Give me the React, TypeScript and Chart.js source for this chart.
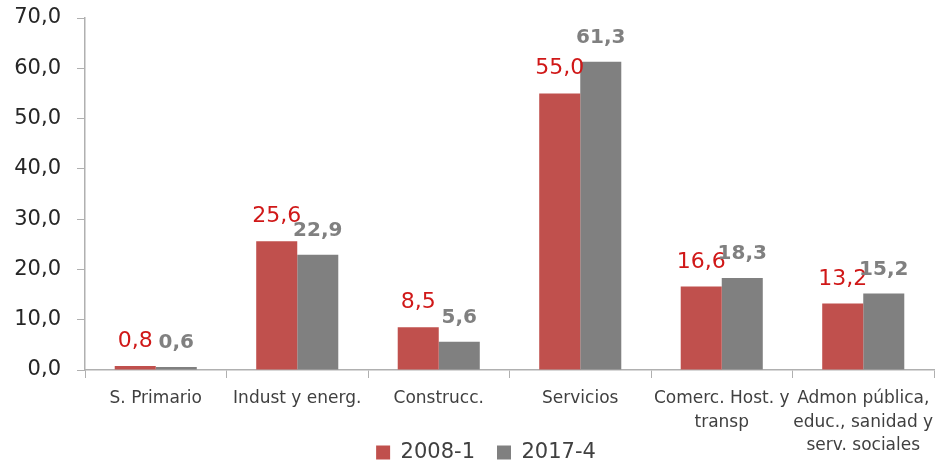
import React, { useEffect, useRef } from "react";
import { Chart, registerables } from "chart.js";

Chart.register(...registerables);

const categories: (string | string[])[] = [
  "S. Primario",
  "Indust y energ.",
  "Construcc.",
  "Servicios",
  ["Comerc. Host. y", "transp"],
  ["Admon pública,", "educ., sanidad y", "serv. sociales"],
];
const series2008 = [0.8, 25.6, 8.5, 55.0, 16.6, 13.2];
const series2017 = [0.6, 22.9, 5.6, 61.3, 18.3, 15.2];
const seriesNames = ["2008-1", "2017-4"];
const barColors = ["#C0504D", "#808080"];
const labelColors = ["#D01818", "#808080"];
const labelFonts = ["normal 22px 'DejaVu Sans'", "bold 20px 'DejaVu Sans'"];

const fmt = (v: number) => v.toFixed(1).replace(".", ",");

const valueLabels = {
  id: "valueLabels",
  afterDatasetsDraw(chart: any) {
    const ctx = chart.ctx;
    chart.data.datasets.forEach((ds: any, i: number) => {
      const meta = chart.getDatasetMeta(i);
      ctx.save();
      ctx.font = labelFonts[i];
      ctx.fillStyle = labelColors[i];
      ctx.textAlign = "center";
      ctx.textBaseline = "alphabetic";
      meta.data.forEach((el: any, j: number) => {
        ctx.fillText(fmt(ds.data[j]), el.x, el.y - 19);
      });
      ctx.restore();
    });
  },
};

// shift legend toward the reference position and let x labels use full height
const layoutTweak = {
  id: "layoutTweak",
  afterLayout(chart: any) {
    const lg = chart.legend;
    if (lg) {
      lg.left += 19;
      lg.right += 19;
    }
    const xs = chart.scales.x;
    if (xs) xs.bottom = chart.height;
  },
};

export default function App() {
  const ref = useRef<HTMLCanvasElement | null>(null);
  useEffect(() => {
    if (!ref.current) return;
    const chart = new Chart(ref.current, {
      type: "bar",
      data: {
        labels: categories,
        datasets: [
          {
            label: seriesNames[0],
            data: series2008,
            backgroundColor: barColors[0],
            borderWidth: 0,
            categoryPercentage: 0.58,
            barPercentage: 1,
          },
          {
            label: seriesNames[1],
            data: series2017,
            backgroundColor: barColors[1],
            borderWidth: 0,
            categoryPercentage: 0.58,
            barPercentage: 1,
          },
        ],
      },
      options: {
        responsive: false,
        animation: false,
        devicePixelRatio: 1,
        layout: { padding: { left: 0, right: 2, top: 18, bottom: -11 } },
        plugins: {
          legend: {
            position: "bottom",
            labels: {
              boxWidth: 14,
              boxHeight: 14,
              padding: 22,
              color: "#404040",
              font: { family: "'DejaVu Sans'", size: 21 },
            },
          },
          tooltip: { enabled: false },
        },
        scales: {
          x: {
            grid: {
              drawOnChartArea: false,
              drawTicks: true,
              tickLength: 8,
              color: "#B0B0B0",
              offset: true,
            },
            border: { display: true, color: "#B0B0B0", width: 1.5 },
            ticks: {
              color: "#404040",
              font: { family: "'DejaVu Sans'", size: 17, lineHeight: 1.38 },
              padding: 9,
              autoSkip: false,
              maxRotation: 0,
              minRotation: 0,
            },
            afterFit: (s: any) => {
              s.height = 50;
              s.paddingLeft = 0;
              s.paddingRight = 0;
            },
          },
          y: {
            min: 0,
            max: 70,
            grid: {
              drawOnChartArea: false,
              drawTicks: true,
              tickLength: 8,
              color: "#B0B0B0",
            },
            border: { display: true, color: "#B0B0B0", width: 1.5 },
            ticks: {
              stepSize: 10,
              color: "#262626",
              font: { family: "'DejaVu Sans'", size: 21 },
              padding: 16,
              callback: (v: any) => fmt(Number(v)),
            },
            afterFit: (s: any) => {
              s.width = 85;
              s.paddingTop = 0;
              s.paddingBottom = 0;
            },
          },
        },
      },
      plugins: [valueLabels, layoutTweak],
    });
    return () => chart.destroy();
  }, []);
  return (
    <div style={{ position: "fixed", left: 0, top: 0, width: 936, height: 462, background: "#fff" }}>
      <canvas ref={ref} width={936} height={462} style={{ display: "block" }} />
    </div>
  );
}
